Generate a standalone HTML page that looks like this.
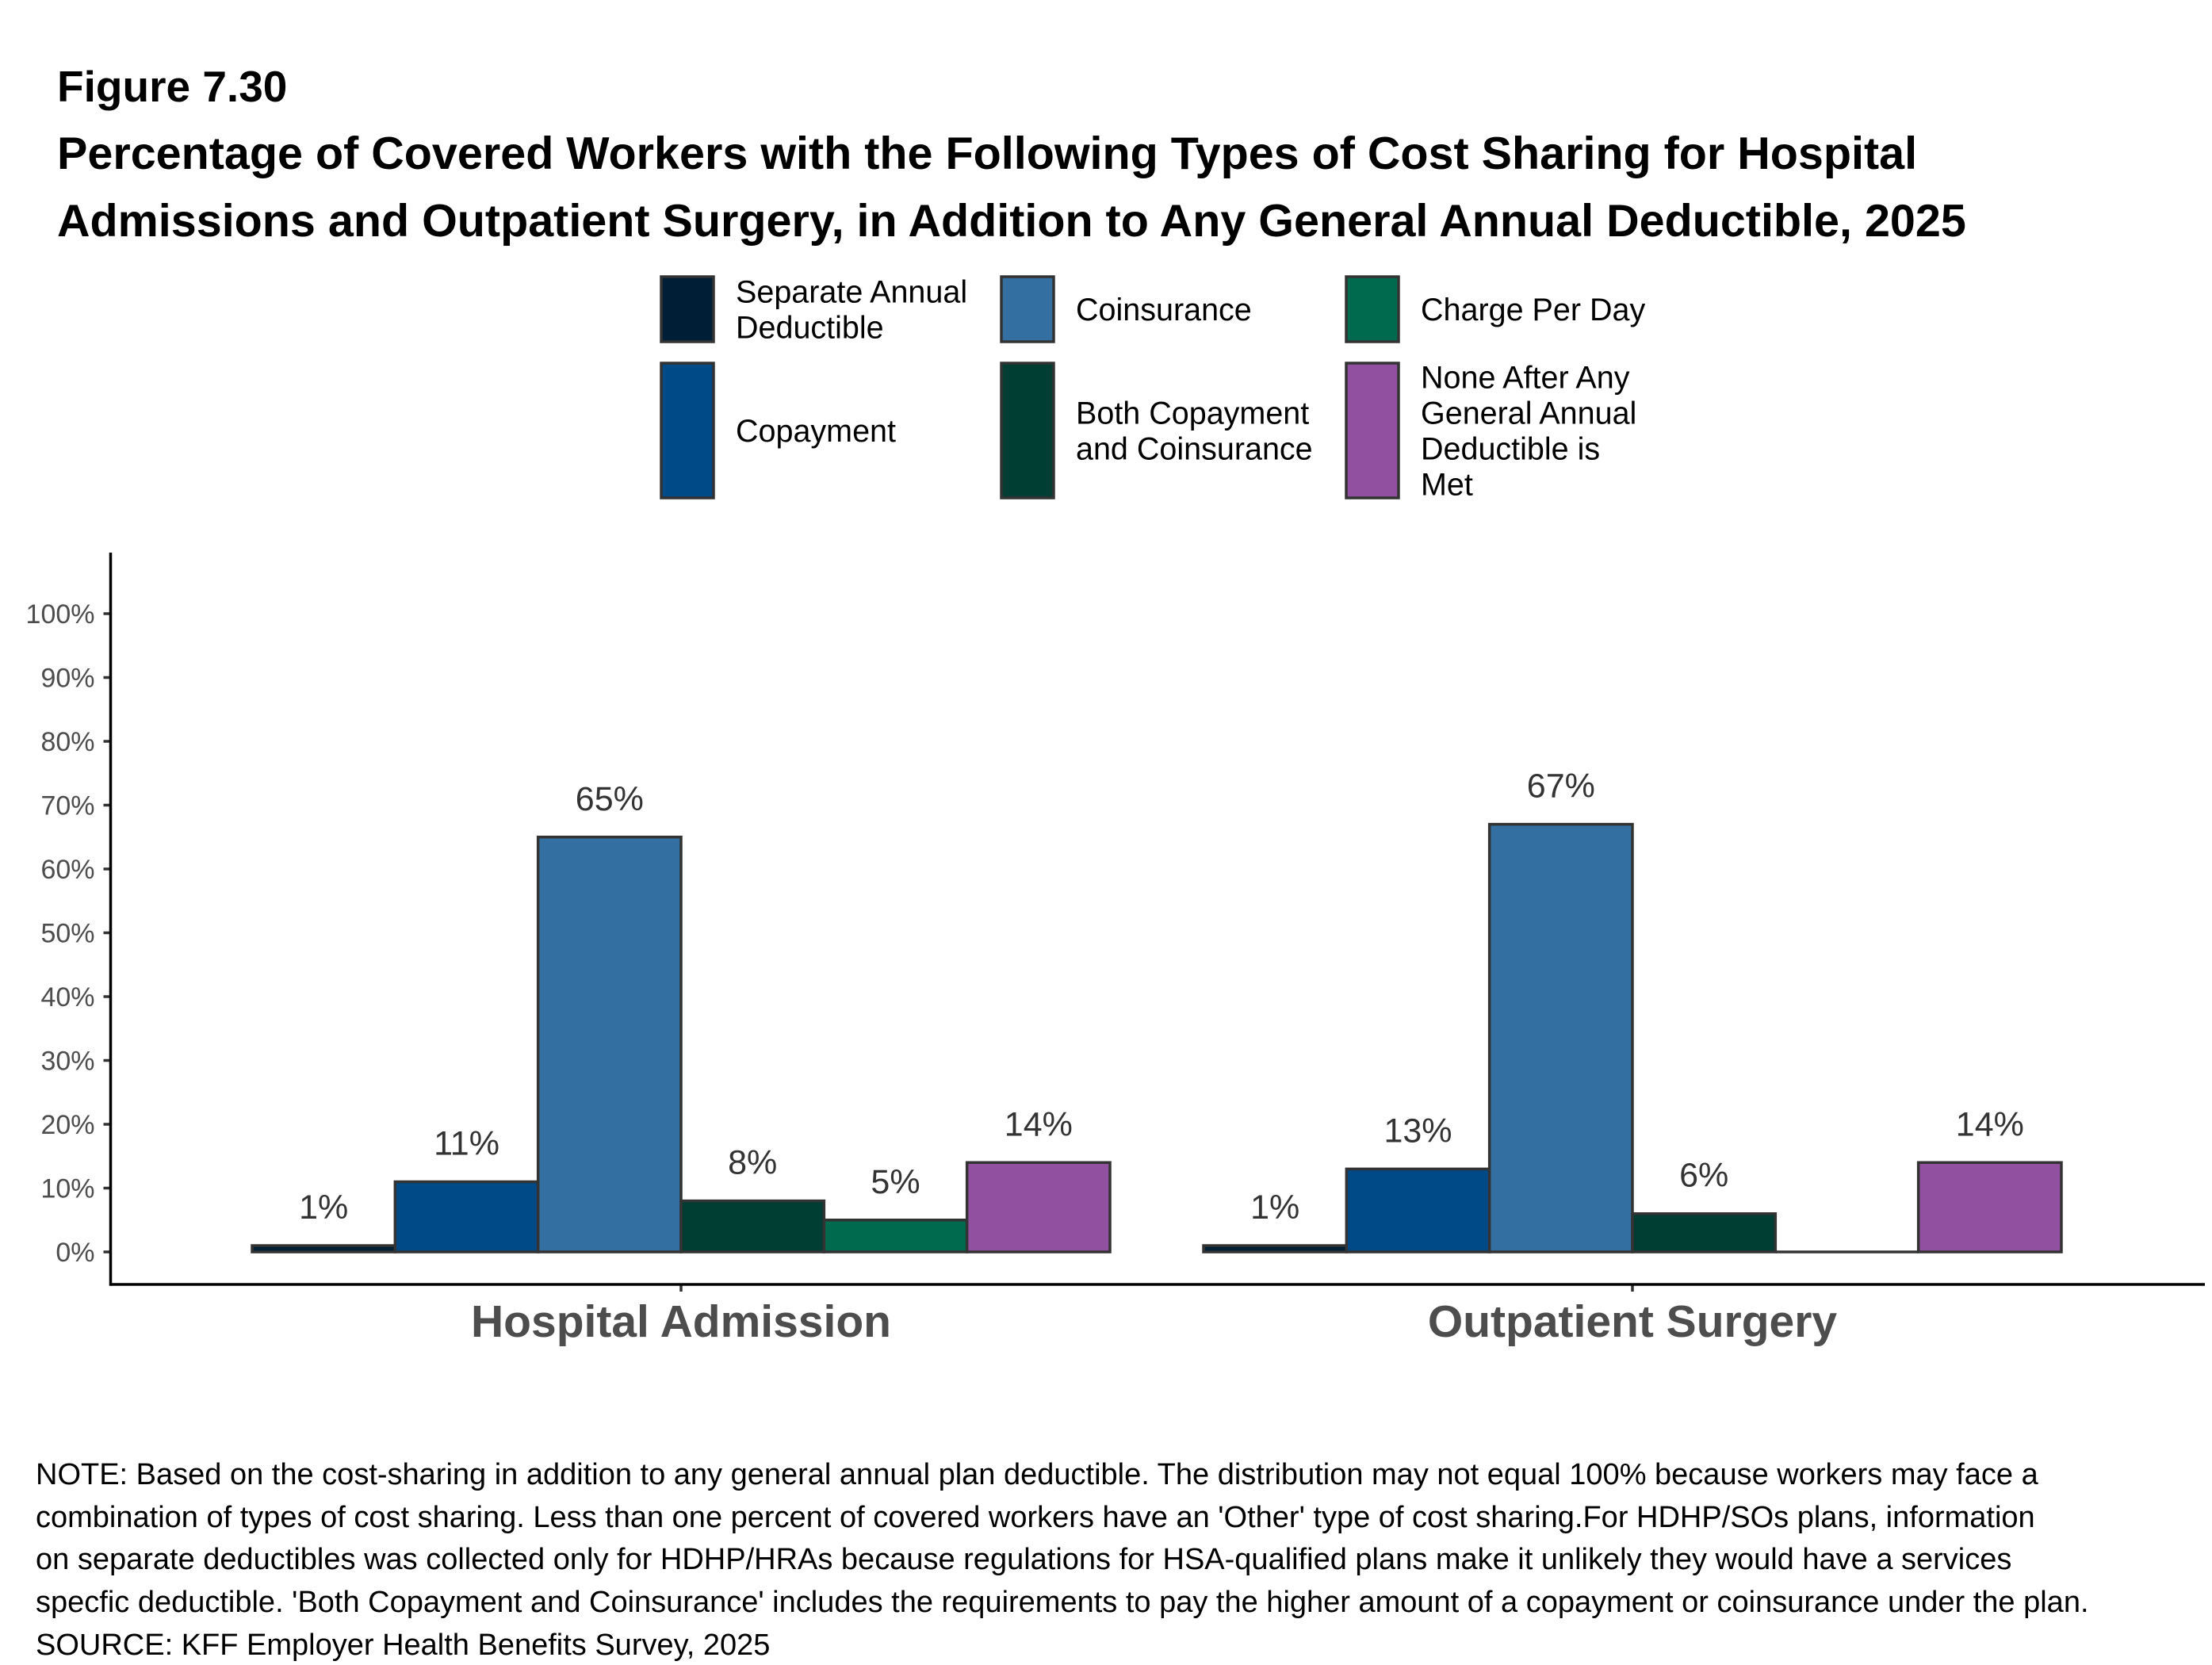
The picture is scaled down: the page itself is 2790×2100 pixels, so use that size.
<!DOCTYPE html>
<html><head><meta charset="utf-8">
<style>
html,body{margin:0;padding:0;background:#fff;}
svg{display:block;font-family:"Liberation Sans",Arial,sans-serif;}
</style></head>
<body>
<svg id="chart" width="2790" height="2100" viewBox="0 0 2790 2100" xmlns="http://www.w3.org/2000/svg">
<text x="72" y="128" font-size="55" font-weight="bold" fill="#000">Figure 7.30</text>
<text x="72" y="213" font-size="57.5" font-weight="bold" fill="#000">Percentage of Covered Workers with the Following Types of Cost Sharing for Hospital</text>
<text x="72" y="298" font-size="57.5" font-weight="bold" fill="#000">Admissions and Outpatient Surgery, in Addition to Any General Annual Deductible, 2025</text>
<g id="legend"></g>
<g id="plot"></g>
<g font-size="38" fill="#000">
<text x="45" y="1872">NOTE: Based on the cost-sharing in addition to any general annual plan deductible. The distribution may not equal 100% because workers may face a</text>
<text x="45" y="1926">combination of types of cost sharing. Less than one percent of covered workers have an 'Other' type of cost sharing.For HDHP/SOs plans, information</text>
<text x="45" y="1979">on separate deductibles was collected only for HDHP/HRAs because regulations for HSA-qualified plans make it unlikely they would have a services</text>
<text x="45" y="2033">specfic deductible. 'Both Copayment and Coinsurance' includes the requirements to pay the higher amount of a copayment or coinsurance under the plan.</text>
<text x="45" y="2087">SOURCE: KFF Employer Health Benefits Survey, 2025</text>
</g>
</svg>
<script>
const categories = ["Hospital Admission", "Outpatient Surgery"];
const seriesNames = ["Separate Annual Deductible", "Copayment", "Coinsurance", "Both Copayment and Coinsurance", "Charge Per Day", "None After Any General Annual Deductible is Met"];
const seriesColors = ["#001f36", "#004a87", "#336fa0", "#003e33", "#006a4f", "#9150a0"];
const valuesHospital = [1, 11, 65, 8, 5, 14];
const valuesOutpatient = [1, 13, 67, 6, 0, 14];
const labelsHospital = ["1%", "11%", "65%", "8%", "5%", "14%"];
const labelsOutpatient = ["1%", "13%", "67%", "6%", "", "14%"];
const yTicks = [0, 10, 20, 30, 40, 50, 60, 70, 80, 90, 100];

const NS = "http://www.w3.org/2000/svg";
function mk(tag, attrs, parent) {
  const e = document.createElementNS(NS, tag);
  for (const k in attrs) e.setAttribute(k, attrs[k]);
  parent.appendChild(e);
  return e;
}
const plot = document.getElementById('plot');
const X0 = 139.5, X1 = 2781, YT = 697, YB = 1620;
const y0px = 1579, y100px = 774;
function yScale(v) { return y0px + (y100px - y0px) * v / 100; }
const band = 1200, firstCenter = 859;
function xCenter(i) { return firstCenter + i * band; }
const groupW = 1082, barW = groupW / seriesNames.length;

yTicks.forEach(t => {
  const y = yScale(t);
  const tk = mk('line', {x1: X0 - 9, x2: X0, y1: y, y2: y, stroke: '#333', 'stroke-width': 3.5}, plot);
  
  
  const lb = mk('text', {x: X0 - 20, y: y + 12, 'text-anchor': 'end', 'font-size': 34, fill: '#4d4d4d'}, plot);
  lb.textContent = t + '%';
  
  
});

const allVals = [valuesHospital, valuesOutpatient];
const allLabels = [labelsHospital, labelsOutpatient];
categories.forEach((c, ci) => {
  const cx = xCenter(ci);
  const left = cx - groupW / 2;
  allVals[ci].forEach((v, si) => {
    const x = left + si * barW;
    const yt = yScale(v);
    const r = mk('path', {d: 'M' + x + ' ' + y0px + ' V' + yt + ' H' + (x + barW) + ' V' + y0px + ' Z', fill: seriesColors[si], stroke: '#333', 'stroke-width': 3.5}, plot);
    
    
    const lab = allLabels[ci][si];
    if (lab) {
      const t = mk('text', {x: x + barW / 2, y: yt - 34, 'text-anchor': 'middle', 'font-size': 43, fill: '#333'}, plot);
      t.textContent = lab;
      
      
    }
  });
  const tk = mk('line', {x1: cx, x2: cx, y1: YB, y2: YB + 9, stroke: '#333', 'stroke-width': 3.5}, plot);
  
  
  const cl = mk('text', {x: cx, y: YB + 66, 'text-anchor': 'middle', 'font-size': 57, 'font-weight': 'bold', fill: '#4d4d4d'}, plot);
  cl.textContent = c;
  
  
});

const ya = mk('line', {x1: X0, x2: X0, y1: YT, y2: YB + 1.75, stroke: '#000', 'stroke-width': 3.5}, plot);


const xa = mk('line', {x1: X0, x2: X1, y1: YB, y2: YB, stroke: '#000', 'stroke-width': 3.5}, plot);



const legend = document.getElementById('legend');
const legendLines = [["Separate Annual", "Deductible"], ["Copayment"], ["Coinsurance"], ["Both Copayment", "and Coinsurance"], ["Charge Per Day"], ["None After Any", "General Annual", "Deductible is", "Met"]];
const colX = [834, 1263, 1698];
const rowY = [[349, 431], [458, 628]];
seriesNames.forEach((n, i) => {
  const col = Math.floor(i / 2), row = i % 2;
  const kx = colX[col], ky0 = rowY[row][0], ky1 = rowY[row][1];
  const g = mk('g', {}, legend);
  
  
  mk('rect', {x: kx, y: ky0, width: 66, height: ky1 - ky0, fill: seriesColors[i], stroke: '#333', 'stroke-width': 3.5}, g);
  const lines = legendLines[i];
  const mid = (ky0 + ky1) / 2;
  const lh = 45;
  lines.forEach((ln, li) => {
    const t = mk('text', {x: kx + 94, y: mid - (lines.length - 1) * lh / 2 + li * lh + 14, 'font-size': 39.5, fill: '#000'}, g);
    t.textContent = ln;
  });
});
</script>
</body></html>
